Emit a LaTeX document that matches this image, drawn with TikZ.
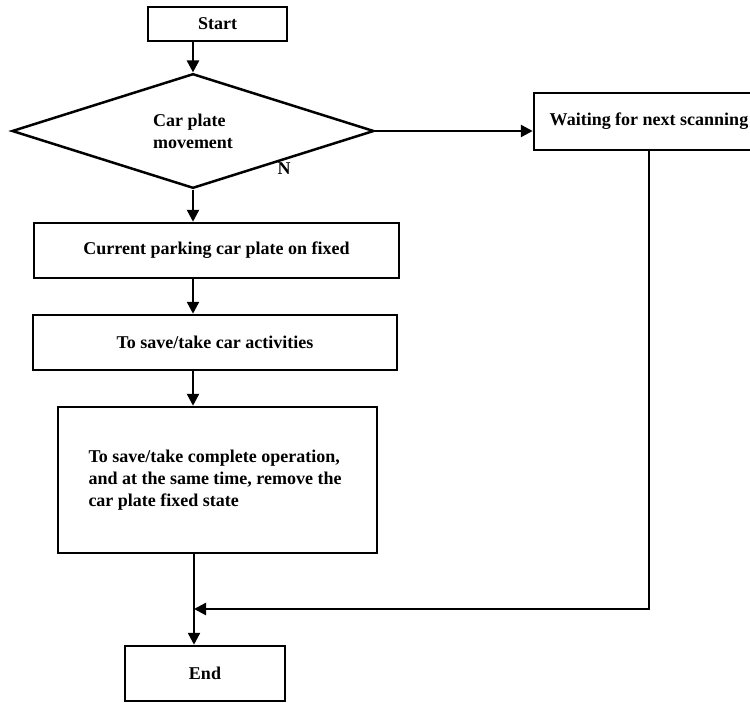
\documentclass[tikz,border=0pt]{standalone}
\usepackage{fontspec}
\setmainfont{Liberation Serif}
\usetikzlibrary{shapes.geometric,arrows.meta}
\begin{document}
\begin{tikzpicture}[x=1pt,y=-1pt,
  txt/.style={font=\fontsize{18}{22}\selectfont\bfseries},
  box/.style={draw,line width=2.5pt,inner sep=0pt,txt},
  arr/.style={line width=2.5pt,-{Triangle[length=12pt,width=12pt]}},
  ln/.style={line width=2.5pt}]
\useasboundingbox (0,0) rectangle (750,702);
\node[box,minimum width=139pt,minimum height=34pt] (start) at (217.5,24) {Start};
\node[box,diamond,minimum width=362pt,minimum height=108pt,align=left] (dia) at (193,131) {Car plate\\movement};
\node[txt] (n) at (284,169) {N};
\node[box,minimum width=230pt,minimum height=57pt] (wait) at (649,121.5) {Waiting for next scanning};
\node[box,minimum width=365pt,minimum height=55pt] (cur) at (216.5,250.5) {Current parking car plate on fixed};
\node[box,minimum width=364pt,minimum height=55pt] (save) at (215,342.5) {To save/take car activities};
\node[box,minimum width=319pt,minimum height=146pt,align=left] (done) at (217.5,480) {\raisebox{6pt}{\parbox{258pt}{To save/take complete operation,\\ and at the same time, remove the\\ car plate fixed state}}};
\node[box,minimum width=160pt,minimum height=55pt] (end) at (205,673.5) {End};
\coordinate (j) at (194,609);
\draw[arr] (start.south -| dia.north) -- (dia.north);
\draw[arr] (dia.east) -- (wait.west |- dia.east);
\draw[arr] (dia.south) -- (dia.south |- cur.north);
\draw[arr] (dia.south |- cur.south) -- (dia.south |- save.north);
\draw[arr] (dia.south |- save.south) -- (dia.south |- done.north);
\draw[ln] (j |- done.south) -- (j);
\draw[arr] (j) -- (j |- end.north);
\draw[arr] (wait.south) -- (wait.south |- j) -- (j);
\end{tikzpicture}
\end{document}
